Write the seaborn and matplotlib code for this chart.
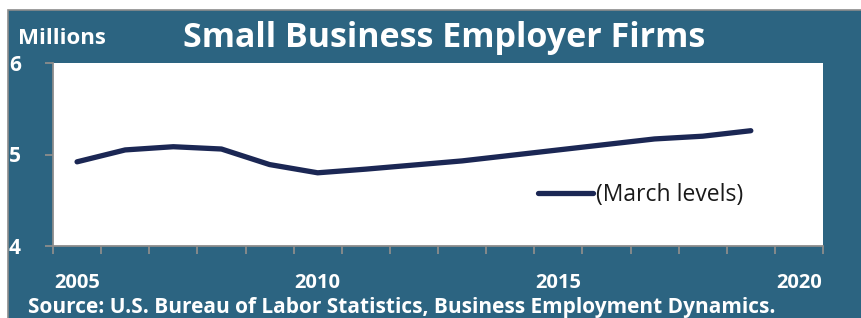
import matplotlib
matplotlib.use("Agg")
import matplotlib.pyplot as plt
import matplotlib.patches as mpatches
import seaborn as sns
import pandas as pd

years = [2005, 2006, 2007, 2008, 2009, 2010, 2011, 2012, 2013, 2014,
         2015, 2016, 2017, 2018, 2019]
firms = [4.92, 5.05, 5.085, 5.06, 4.89, 4.80, 4.84, 4.885, 4.93, 4.99,
         5.05, 5.11, 5.17, 5.20, 5.26]
year_labels = [2005, 2010, 2015, 2020]
y_ticks = [4, 5, 6]

TEAL = "#2C6481"
NAVY = "#1B2754"
GRAY = "#8C8C8C"

sns.set_theme(style="white")
plt.rcParams['font.family'] = ['Open Sans', 'DejaVu Sans']

df = pd.DataFrame({"year": years, "firms": firms})

fig = plt.figure(figsize=(8.61, 3.18), dpi=100)
fig.patch.set_facecolor("white")

# teal panel with gray border on top/left
bg = mpatches.Rectangle((7.5 / 861, -0.1), 1.2, 1.1 - 9.5 / 318,
                        transform=fig.transFigure, facecolor=TEAL,
                        edgecolor=GRAY, linewidth=1.2, zorder=-10)
fig.patches.append(bg)

ax = fig.add_axes([53 / 861, 1 - 246 / 318, (823 - 53) / 861, (246 - 63) / 318])
ax.set_facecolor("white")

sns.lineplot(data=df, x="year", y="firms", ax=ax, color=NAVY, linewidth=3.8,
             label="(March levels)", solid_capstyle="round")

ax.set_xlim(2004.5, 2020.5)
ax.set_ylim(4, 6)

# tick marks at category boundaries, labels at category centres
ax.set_xticks([y - 0.5 for y in range(2005, 2022)])
ax.set_xticklabels([])
ax.set_xticks(year_labels, minor=True)
ax.set_xticklabels([str(y) for y in year_labels], minor=True)
ax.tick_params(axis="x", which="major", direction="out", length=6, width=1.3,
               color=GRAY, bottom=True)
ax.tick_params(axis="x", which="minor", length=0, pad=19.5, labelsize=14.5,
               labelcolor="white", bottom=True)
for t in ax.get_xticklabels(minor=True):
    t.set_fontweight("bold")

ax.set_yticks(y_ticks)
ax.set_yticklabels([str(v) for v in y_ticks], fontweight="bold")
ax.tick_params(axis="y", direction="out", length=6, width=1.3, color=GRAY,
               left=True, pad=17, labelsize=15, labelcolor="white")

for s in ["top", "right"]:
    ax.spines[s].set_visible(False)
for s in ["left", "bottom"]:
    ax.spines[s].set_color(GRAY)
    ax.spines[s].set_linewidth(1.3)

ax.set_xlabel("")
ax.set_ylabel("")

leg = ax.legend(loc="center left", bbox_to_anchor=((538 - 53) / 770, (246 - 195) / 183),
                frameon=False, borderaxespad=0, borderpad=0,
                handlelength=2.4, handletextpad=0.15, fontsize=16.5)
for t in leg.get_texts():
    t.set_color("#1a1a1a")

fig.text(444 / 861, 1 - 38 / 318, "Small Business Employer Firms",
         ha="center", va="center", fontsize=24.5, fontweight="bold", color="white")
fig.text(18 / 861, 1 - 39 / 318, "Millions", ha="left", va="center",
         fontsize=16, fontweight="bold", color="white")
fig.text(28 / 861, 1 - 307 / 318,
         "Source: U.S. Bureau of Labor Statistics, Business Employment Dynamics.",
         ha="left", va="center", fontsize=15, fontweight="bold", color="white")

fig.savefig("out.png", dpi=100, facecolor=fig.get_facecolor())
plt.close(fig)
